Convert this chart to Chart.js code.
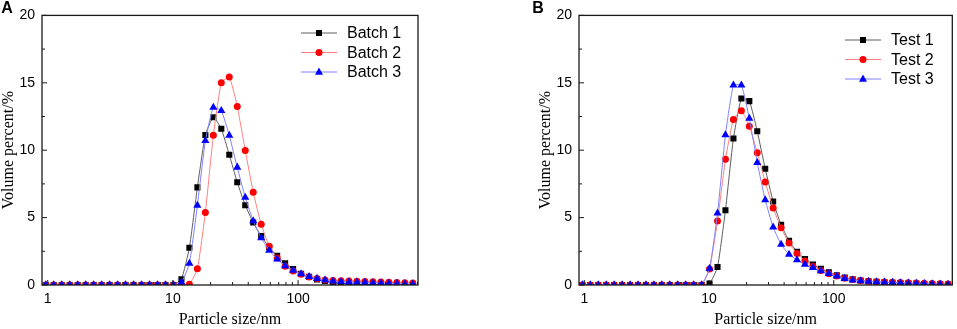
<!DOCTYPE html>
<html lang="en">
<head>
<meta charset="UTF-8">
<title>Particle size distribution</title>
<script src="https://cdn.jsdelivr.net/npm/chart.js"></script>
<style>
  body { margin: 0; background: #fff; }
  canvas { position: absolute; top: 0; }
  #chartA { left: 0; }
  #chartB { left: 478px; }
</style>
</head>
<body>
<canvas id="chartA" width="478" height="329"></canvas>
<canvas id="chartB" width="479" height="329"></canvas>

<script>
  // Particle size bins (nm)
  const sizes = [0.9649, 1.117, 1.294, 1.499, 1.736, 2.01, 2.328, 2.696, 3.122, 3.615, 4.187, 4.849, 5.615, 6.503, 7.531, 8.721,
    10.1, 11.7, 13.54, 15.69, 18.17, 21.04, 24.36, 28.21, 32.67, 37.84, 43.82, 50.75, 58.77, 68.06, 78.82, 91.28,
    105.7, 122.4, 141.8, 164.2, 190.1, 220.2, 255, 295.3, 342, 396.1, 458.7, 531.2, 615.1, 712.4, 825];

  // Panel A: volume percent per batch
  const batch1 = [0, 0, 0, 0, 0, 0, 0, 0, 0, 0, 0, 0, 0, 0, 0, 0,
    0, 0.43, 2.76, 7.24, 11.13, 12.45, 11.59, 9.66, 7.62, 5.91, 4.64, 3.63, 2.8, 2.16, 1.61, 1.18,
    0.84, 0.6, 0.42, 0.3, 0.2, 0.13, 0.08, 0.05, 0.03, 0.02, 0, 0, 0, 0, 0];
  const batch2 = [0, 0, 0, 0, 0, 0, 0, 0, 0, 0, 0, 0, 0, 0, 0, 0,
    0, 0, 0.05, 1.2, 5.38, 11.1, 15.0, 15.43, 13.25, 9.98, 6.88, 4.5, 2.88, 2.0, 1.39, 1.03,
    0.79, 0.6, 0.48, 0.38, 0.34, 0.31, 0.3, 0.28, 0.26, 0.24, 0.22, 0.2, 0.18, 0.16, 0.14];
  const batch3 = [0, 0, 0, 0, 0, 0, 0, 0, 0, 0, 0, 0, 0, 0, 0, 0,
    0, 0.2, 1.6, 5.91, 10.7, 13.17, 12.93, 11.1, 8.73, 6.49, 4.76, 3.49, 2.57, 1.92, 1.42, 1.08,
    0.82, 0.62, 0.48, 0.36, 0.29, 0.25, 0.22, 0.2, 0.18, 0.16, 0.14, 0.12, 0.1, 0.08, 0.06];

  // Panel B: volume percent per test
  const test1 = [0, 0, 0, 0, 0, 0, 0, 0, 0, 0, 0, 0, 0, 0, 0, 0,
    0.1, 1.33, 5.54, 10.87, 13.83, 13.64, 11.4, 8.63, 6.19, 4.46, 3.28, 2.46, 1.93, 1.52, 1.2, 0.94,
    0.72, 0.55, 0.43, 0.34, 0.28, 0.24, 0.2, 0.17, 0.14, 0.12, 0.1, 0.08, 0.06, 0.05, 0.04];
  const test2 = [0, 0, 0, 0, 0, 0, 0, 0, 0, 0, 0, 0, 0, 0, 0, 0,
    1.18, 4.75, 9.33, 12.27, 12.92, 11.78, 9.81, 7.64, 5.71, 4.24, 3.11, 2.34, 1.78, 1.4, 1.08, 0.84,
    0.67, 0.51, 0.41, 0.33, 0.28, 0.25, 0.23, 0.21, 0.19, 0.17, 0.15, 0.13, 0.11, 0.09, 0.07];
  const test3 = [0, 0, 0, 0, 0, 0, 0, 0, 0, 0, 0, 0, 0, 0, 0, 0,
    1.23, 5.33, 11.13, 14.82, 14.82, 12.36, 9.08, 6.31, 4.29, 3.01, 2.27, 1.86, 1.52, 1.28, 1.04, 0.84,
    0.65, 0.48, 0.36, 0.3, 0.26, 0.23, 0.2, 0.18, 0.16, 0.14, 0.12, 0.1, 0.08, 0.06, 0.05];

  // Axis ticks
  const xMajor = [1, 10, 100];
  const xMinor = [2, 3, 4, 5, 6, 7, 8, 9, 20, 30, 40, 50, 60, 70, 80, 90, 200, 300, 400, 500, 600, 700, 800, 900];
  const yMajor = [0, 5, 10, 15, 20];
  const yMinor = [2.5, 7.5, 12.5, 17.5];

  const seriesStyle = [
    { line: '#5e5e5e', fill: '#000000', shape: 'rect', r: 4.3 },
    { line: '#ff8080', fill: '#ff0000', shape: 'circle', r: 3.5 },
    { line: '#8080ff', fill: '#0000ff', shape: 'triangle', r: 4.7 }
  ];

  function marker(ctx, shape, x, y, color) {
    ctx.fillStyle = color;
    ctx.beginPath();
    if (shape === 'rect') {
      ctx.rect(x - 3, y - 3, 6, 6);
    } else if (shape === 'circle') {
      ctx.arc(x, y, 3.5, 0, Math.PI * 2);
    } else {
      ctx.moveTo(x, y - 4.5);
      ctx.lineTo(x + 4, y + 2.8);
      ctx.lineTo(x - 4, y + 2.8);
      ctx.closePath();
    }
    ctx.fill();
  }

  // frame, inward ticks, titles and legend
  const decor = {
    id: 'decor',
    afterDraw(chart, args, opt) {
      const { ctx, chartArea: a, scales: { x, y } } = chart;
      ctx.save();
      ctx.strokeStyle = '#1a1a1a';
      ctx.lineWidth = 1;
      ctx.beginPath();
      xMajor.forEach(v => { const p = x.getPixelForValue(v); ctx.moveTo(p, a.bottom); ctx.lineTo(p, a.bottom - 5); });
      xMinor.forEach(v => {
        if (v > x.max) return;
        const p = x.getPixelForValue(v); ctx.moveTo(p, a.bottom); ctx.lineTo(p, a.bottom - 3);
      });
      yMajor.forEach(v => { const p = y.getPixelForValue(v); ctx.moveTo(a.left, p); ctx.lineTo(a.left + 5, p); });
      yMinor.forEach(v => { const p = y.getPixelForValue(v); ctx.moveTo(a.left, p); ctx.lineTo(a.left + 3, p); });
      ctx.stroke();
      ctx.lineWidth = 1.3;
      ctx.strokeRect(a.left, a.top, a.right - a.left, a.bottom - a.top);

      ctx.fillStyle = '#000';
      ctx.textAlign = 'center';
      ctx.textBaseline = 'middle';
      ctx.font = 'bold 16px Arial, "Liberation Sans", sans-serif';
      ctx.fillText(opt.letter, opt.letterX, 9);

      ctx.font = '16px "Liberation Serif", "Times New Roman", serif';
      ctx.fillText('Particle size/nm', (a.left + a.right) / 2, 320);
      ctx.save();
      ctx.translate(a.left - 33, (a.top + a.bottom) / 2);
      ctx.rotate(-Math.PI / 2);
      ctx.fillText('Volume percent/%', 0, 0);
      ctx.restore();

      // legend
      ctx.textAlign = 'left';
      ctx.font = '16px Arial, "Liberation Sans", sans-serif';
      chart.data.datasets.forEach((ds, i) => {
        const st = seriesStyle[i];
        const ly = opt.legendY + i * 19.5;
        ctx.strokeStyle = st.line;
        ctx.lineWidth = 1;
        ctx.beginPath();
        ctx.moveTo(opt.legendX, ly);
        ctx.lineTo(opt.legendX + 36, ly);
        ctx.stroke();
        marker(ctx, st.shape, opt.legendX + 18, ly, st.fill);
        ctx.fillStyle = '#000';
        ctx.fillText(ds.label, opt.legendX + 46, ly + 1);
      });
      ctx.restore();
    }
  };

  function makeChart(id, labels, series, xMin, xMax, pad, yWidth, letter, legendX, legendY) {
    const datasets = series.map((vals, i) => ({
      label: labels[i],
      data: sizes.map((s, k) => ({ x: s, y: vals[k] })),
      borderColor: seriesStyle[i].line,
      borderWidth: 1,
      backgroundColor: seriesStyle[i].fill,
      pointBackgroundColor: seriesStyle[i].fill,
      pointBorderWidth: 0,
      pointStyle: seriesStyle[i].shape,
      pointRadius: seriesStyle[i].r,
      tension: 0.15,
      order: 3 - i
    }));

    return new Chart(document.getElementById(id), {
      type: 'line',
      data: { datasets },
      options: {
        responsive: false,
        animation: false,
        layout: { padding: pad },
        plugins: {
          legend: { display: false },
          tooltip: { enabled: false },
          decor: { letter, letterX: letter === 'A' ? 7 : 60, legendX, legendY }
        },
        scales: {
          x: {
            type: 'logarithmic',
            min: xMin,
            max: xMax,
            grid: { display: false, drawTicks: false },
            border: { display: false },
            afterBuildTicks: s => { s.ticks = xMajor.map(v => ({ value: v })); },
            afterFit: s => { s.height = 44; },
            ticks: {
              padding: 6,
              color: '#000',
              font: { family: 'Arial, "Liberation Sans", sans-serif', size: 14 },
              callback: v => String(v)
            }
          },
          y: {
            min: 0,
            max: 20,
            grid: { display: false, drawTicks: false },
            border: { display: false },
            afterBuildTicks: s => { s.ticks = yMajor.map(v => ({ value: v })); },
            afterFit: s => { s.width = yWidth; },
            ticks: {
              padding: 7,
              color: '#000',
              font: { family: 'Arial, "Liberation Sans", sans-serif', size: 14 }
            }
          }
        }
      },
      plugins: [decor]
    });
  }

  makeChart('chartA', ['Batch 1', 'Batch 2', 'Batch 3'], [batch1, batch2, batch3],
    0.9, 908, { top: 7, right: 60, left: 0, bottom: 0 }, 42, 'A', 301, 33);
  makeChart('chartB', ['Test 1', 'Test 2', 'Test 3'], [test1, test2, test3],
    0.907, 892, { top: 8, right: 3, left: 0, bottom: 0 }, 101, 'B', 367, 40);
</script>
</body>
</html>
